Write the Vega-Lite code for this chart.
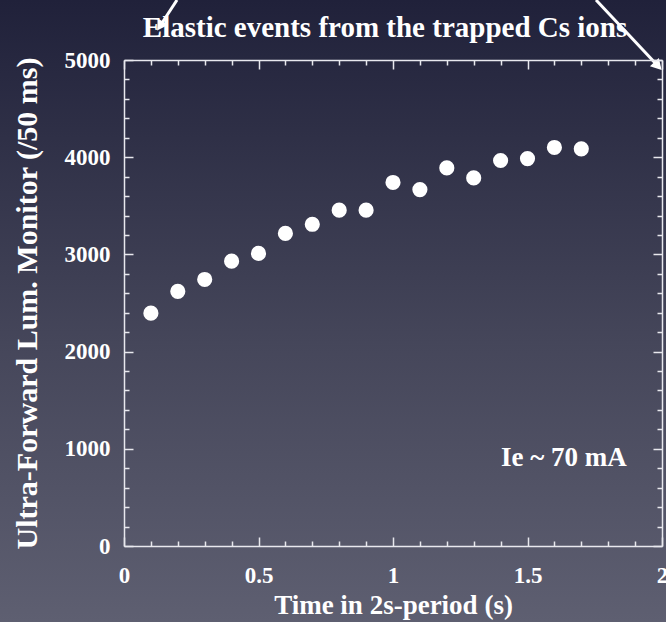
{
  "$schema": "https://vega.github.io/schema/vega-lite/v6.json",
  "width": 538,
  "height": 486,
  "autosize": "none",
  "padding": {"left": 124, "top": 60, "right": 4, "bottom": 76},
  "background": "#3c3d50",
  "config": {
    "view": {"stroke": null},
    "font": "Liberation Serif",
    "axis": {"labelFont": "Liberation Serif", "titleFont": "Liberation Serif", "labelFontWeight": "bold", "titleFontWeight": "bold", "labelColor": "white", "titleColor": "white", "domainColor": "#e8e8ee", "tickColor": "#e8e8ee", "domainWidth": 1.5, "tickWidth": 1.5, "grid": false, "labelFontSize": 23, "titleFontSize": 27, "labelFlush": false, "labelOverlap": false}
  },
  "title": {"text": "Elastic events from the trapped Cs ions", "font": "Liberation Serif", "fontWeight": "bold", "fontSize": 29, "color": "white", "anchor": "middle", "dx": -8, "offset": -44, "zindex": 3},
  "datasets": {
    "points": [
      {"t": 0.1, "lum": 2395},
      {"t": 0.2, "lum": 2620},
      {"t": 0.3, "lum": 2742},
      {"t": 0.4, "lum": 2930},
      {"t": 0.5, "lum": 3010},
      {"t": 0.6, "lum": 3216},
      {"t": 0.7, "lum": 3310},
      {"t": 0.8, "lum": 3455},
      {"t": 0.9, "lum": 3455},
      {"t": 1.0, "lum": 3740},
      {"t": 1.1, "lum": 3667},
      {"t": 1.2, "lum": 3890},
      {"t": 1.3, "lum": 3787},
      {"t": 1.4, "lum": 3966},
      {"t": 1.5, "lum": 3986},
      {"t": 1.6, "lum": 4100},
      {"t": 1.7, "lum": 4086}
    ],
    "note": [{"t": 1.635, "lum": 905, "label": "Ie ~ 70 mA"}]
  },
  "resolve": {"axis": {"x": "independent", "y": "independent"}},
  "layer": [
    {
      "mark": {"type": "rect", "fill": {"gradient": "linear", "x1": 0, "y1": 0, "x2": 0, "y2": 1, "stops": [{"offset": 0, "color": "#20213a"}, {"offset": 0.55, "color": "#45465a"}, {"offset": 1, "color": "#5e5f71"}]}},
      "data": {"values": [{}]},
      "encoding": {"x": {"value": -124}, "x2": {"value": 542}, "y": {"value": -60}, "y2": {"value": 562}}
    },
    {
      "data": {"name": "points"},
      "mark": {"type": "point", "filled": true, "color": "white", "opacity": 1, "size": 230},
      "encoding": {
        "x": {"field": "t", "type": "quantitative", "scale": {"domain": [0, 2], "nice": false, "zero": false},
          "axis": {"orient": "bottom", "zindex": 3, "title": "Time in 2s-period (s)", "values": [0, 0.5, 1, 1.5, 2], "format": "~g",
            "tickSize": -9, "labelPadding": 27, "titlePadding": 5}},
        "y": {"field": "lum", "type": "quantitative", "scale": {"domain": [0, 5000], "nice": false, "zero": false},
          "axis": {"orient": "left", "zindex": 3, "title": "Ultra-Forward Lum. Monitor (/50 ms)", "titleFontSize": 30, "values": [0, 1000, 2000, 3000, 4000, 5000], "format": "d",
            "tickSize": -9, "labelPadding": 23, "titlePadding": 22}}
      }
    },
    {
      "data": {"name": "points"},
      "mark": {"type": "point", "opacity": 0},
      "encoding": {
        "x": {"field": "t", "type": "quantitative",
          "axis": {"orient": "bottom", "zindex": 3, "title": null, "labels": false, "domain": false, "tickSize": -5, "values": [0.1,0.2,0.3,0.4,0.6,0.7,0.8,0.9,1.1,1.2,1.3,1.4,1.6,1.7,1.8,1.9]}},
        "y": {"field": "lum", "type": "quantitative",
          "axis": {"orient": "left", "zindex": 3, "title": null, "labels": false, "domain": false, "tickSize": -5, "values": [200,400,600,800,1200,1400,1600,1800,2200,2400,2600,2800,3200,3400,3600,3800,4200,4400,4600,4800]}}
      }
    },
    {
      "data": {"name": "points"},
      "mark": {"type": "point", "opacity": 0},
      "encoding": {
        "x": {"field": "t", "type": "quantitative",
          "axis": {"orient": "top", "zindex": 3, "title": null, "labels": false, "tickSize": -9, "values": [0, 0.5, 1, 1.5, 2]}},
        "y": {"field": "lum", "type": "quantitative",
          "axis": {"orient": "right", "zindex": 3, "title": null, "labels": false, "tickSize": -9, "values": [0, 1000, 2000, 3000, 4000, 5000]}}
      }
    },
    {
      "data": {"name": "points"},
      "mark": {"type": "point", "opacity": 0},
      "encoding": {
        "x": {"field": "t", "type": "quantitative",
          "axis": {"orient": "top", "zindex": 3, "title": null, "labels": false, "domain": false, "tickSize": -5, "values": [0.1,0.2,0.3,0.4,0.6,0.7,0.8,0.9,1.1,1.2,1.3,1.4,1.6,1.7,1.8,1.9]}},
        "y": {"field": "lum", "type": "quantitative",
          "axis": {"orient": "right", "zindex": 3, "title": null, "labels": false, "domain": false, "tickSize": -5, "values": [200,400,600,800,1200,1400,1600,1800,2200,2400,2600,2800,3200,3400,3600,3800,4200,4400,4600,4800]}}
      }
    },
    {
      "data": {"name": "note"},
      "mark": {"type": "text", "font": "Liberation Serif", "fontWeight": "bold", "fontSize": 27, "color": "white", "align": "center", "baseline": "middle"},
      "encoding": {
        "x": {"field": "t", "type": "quantitative", "axis": null},
        "y": {"field": "lum", "type": "quantitative", "axis": null},
        "text": {"field": "label"}
      }
    },
    {
      "mark": {"type": "rule", "color": "white", "strokeWidth": 3},
      "data": {"values": [{}]},
      "encoding": {"x": {"value": 53}, "y": {"value": -60}, "x2": {"value": 36}, "y2": {"value": -34}}
    },
    {
      "mark": {"type": "point", "shape": "triangle-down", "filled": true, "color": "white", "opacity": 1, "size": 150, "angle": 33},
      "data": {"values": [{}]},
      "encoding": {"x": {"value": 36}, "y": {"value": -34}}
    },
    {
      "mark": {"type": "rule", "color": "white", "strokeWidth": 3},
      "data": {"values": [{}]},
      "encoding": {"x": {"value": 472}, "y": {"value": -60}, "x2": {"value": 534}, "y2": {"value": 6}}
    },
    {
      "mark": {"type": "point", "shape": "triangle-down", "filled": true, "color": "white", "opacity": 1, "size": 150, "angle": -43},
      "data": {"values": [{}]},
      "encoding": {"x": {"value": 534}, "y": {"value": 6}}
    }
  ]
}
